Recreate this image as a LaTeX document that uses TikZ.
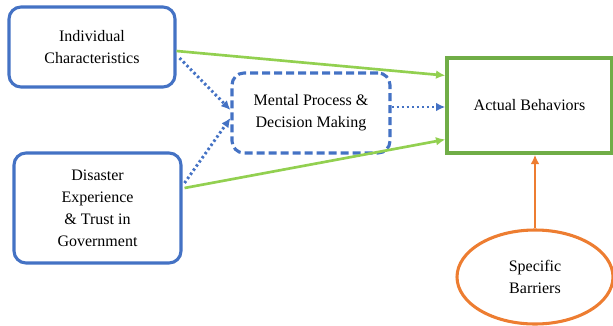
\documentclass[tikz,border=0pt]{standalone}
\usepackage{fontspec}
\setmainfont{Liberation Serif}
\usetikzlibrary{arrows.meta,shapes.geometric,calc}
\definecolor{cblue}{HTML}{4472C4}
\definecolor{cgreen}{HTML}{70AD47}
\definecolor{lgreen}{HTML}{92D050}
\definecolor{corange}{HTML}{ED7D31}
\begin{document}
\begin{tikzpicture}[x=0.75pt,y=-0.75pt,
  txt/.style={font=\fontsize{12pt}{16.5pt}\selectfont, align=center, inner sep=0pt},
  rbox/.style={txt, draw=cblue, line width=2.3pt, rounded corners=9pt},
  dbox/.style={txt, draw=cblue, line width=2.3pt, rounded corners=9pt, dash pattern=on 6pt off 3pt},
  gbox/.style={txt, draw=cgreen, line width=2.5pt},
  obox/.style={txt, draw=corange, line width=2.3pt, ellipse},
  garrow/.style={draw=lgreen, line width=2pt, -{Latex[length=7pt,width=6.5pt]}},
  barrow/.style={draw=cblue, line width=2.2pt, dash pattern=on 1.8pt off 2pt, -{Latex[length=7pt,width=6.5pt]}},
  oarrow/.style={draw=corange, line width=2pt, -{Latex[length=7pt,width=6.5pt]}}
]
\useasboundingbox (0,0) rectangle (613,325);
\node[rbox, minimum width=124.5pt, minimum height=60pt] (ind) at (92,47) {Individual\\Characteristics};
\node[rbox, minimum width=125.25pt, minimum height=82.5pt] (dis) at (97.5,208) {Disaster\\Experience\\\& Trust in\\Government};
\node[dbox, minimum width=118.5pt, minimum height=60pt] (men) at (311,113) {Mental Process \&\\Decision Making};
\node[gbox, minimum width=123.75pt, minimum height=71.25pt] (act) at (529.5,105.5) {Actual Behaviors};
\node[obox, minimum width=117pt, minimum height=70.5pt] (bar) at (535,277) {Specific\\Barriers};

\draw[garrow] ($(ind.east)+(0,4)$) -- ($(act.west)+(0,-30)$);
\draw[garrow] ($(dis.east)+(2,-20)$) -- ($(act.west)+(0,34)$);
\draw[barrow] ($(ind.east)+(3,11)$) -- ($(men.west)+(0,-3)$);
\draw[barrow] ($(dis.east)+(2,-25)$) -- ($(men.west)+(0,5)$);
\draw[barrow] ($(men.east)+(0,-6)$) -- ($(act.west)+(0,1.5)$);
\draw[oarrow] (bar.north) -- (bar.north |- act.south);
\end{tikzpicture}
\end{document}
